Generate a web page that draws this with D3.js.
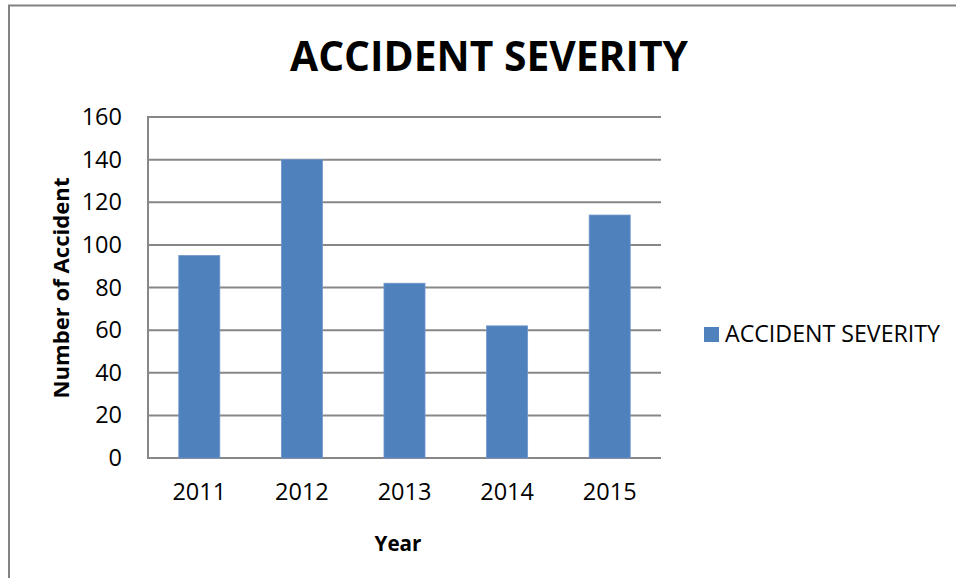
<!DOCTYPE html>
<html>
<head>
<meta charset="utf-8">
<script src="https://cdn.jsdelivr.net/npm/d3@7/dist/d3.min.js"></script>
<style>
  html, body { margin: 0; padding: 0; background: #fff; }
  svg { display: block; }
  text { font-family: "Open Sans", "Noto Sans", sans-serif; fill: #000; }
</style>
</head>
<body>
<svg id="chart" width="956" height="578"></svg>
<script>
// Accident counts per year
const years = ["2011", "2012", "2013", "2014", "2015"];
const accidents = [95, 140, 82, 62, 114];
const yTicks = [0, 20, 40, 60, 80, 100, 120, 140, 160];
const seriesName = "ACCIDENT SEVERITY";

const W = 956, H = 578;
const plot = { left: 148, right: 661, top: 117, bottom: 458 };

const svg = d3.select("#chart");

// outer frame (top and left edges)
svg.append("path")
  .attr("d", `M9,${H} L9,5.5 L${W},5.5`)
  .attr("fill", "none")
  .attr("stroke", "#828282")
  .attr("stroke-width", 2);

const x = d3.scaleBand()
  .domain(years)
  .range([plot.left, plot.right])
  .paddingInner(0.6)
  .paddingOuter(0.3);

const y = d3.scaleLinear()
  .domain([0, 160])
  .range([plot.bottom, plot.top]);

// horizontal gridlines
svg.append("g")
  .selectAll("line")
  .data(yTicks)
  .join("line")
  .attr("x1", plot.left)
  .attr("x2", plot.right)
  .attr("y1", d => y(d))
  .attr("y2", d => y(d))
  .attr("stroke", "#878787")
  .attr("stroke-width", 2);

// value axis line
svg.append("line")
  .attr("x1", plot.left).attr("x2", plot.left)
  .attr("y1", plot.top - 1).attr("y2", plot.bottom + 1)
  .attr("stroke", "#878787")
  .attr("stroke-width", 2);

// bars
svg.append("g")
  .selectAll("rect")
  .data(accidents)
  .join("rect")
  .attr("x", (d, i) => x(years[i]))
  .attr("width", x.bandwidth())
  .attr("y", d => y(d))
  .attr("height", d => y(0) - y(d))
  .attr("fill", "#4F81BD")
  .attr("stroke", "#7197CC")
  .attr("stroke-width", 0.8);

// y tick labels
const yAxis = d3.axisLeft(y).tickValues(yTicks).tickSize(0).tickPadding(26);
const gy = svg.append("g").attr("transform", `translate(${plot.left},0)`).call(yAxis);
gy.select(".domain").remove();
gy.selectAll("text")
  .attr("font-size", 23.5)
  .attr("font-family", "Open Sans")
  .attr("fill", "#000");

// x tick labels
const xAxis = d3.axisBottom(x).tickSize(0).tickPadding(0);
const gx = svg.append("g").attr("transform", `translate(0,${plot.bottom})`).call(xAxis);
gx.select(".domain").remove();
gx.selectAll("text")
  .attr("font-size", 23.5)
  .attr("font-family", "Open Sans")
  .attr("fill", "#000")
  .attr("dy", null)
  .attr("y", 42);

// title
svg.append("text")
  .attr("x", 489)
  .attr("y", 71)
  .attr("text-anchor", "middle")
  .attr("font-size", 42)
  .attr("font-weight", "bold")
  .attr("textLength", 398)
  .attr("lengthAdjust", "spacingAndGlyphs")
  .text(seriesName);

// axis titles
svg.append("text")
  .attr("x", 398)
  .attr("y", 551)
  .attr("text-anchor", "middle")
  .attr("font-size", 21)
  .attr("font-weight", "bold")
  .attr("textLength", 47)
  .attr("lengthAdjust", "spacingAndGlyphs")
  .text("Year");

svg.append("text")
  .attr("transform", "translate(69,288) rotate(-90)")
  .attr("text-anchor", "middle")
  .attr("font-size", 21)
  .attr("font-weight", "bold")
  .attr("textLength", 221)
  .attr("lengthAdjust", "spacingAndGlyphs")
  .text("Number of Accident");

// legend
const legend = svg.append("g").attr("transform", "translate(704,327)");
legend.append("rect")
  .attr("width", 15).attr("height", 15)
  .attr("fill", "#4F81BD");
legend.append("text")
  .attr("x", 21)
  .attr("y", 15)
  .attr("font-size", 23)
  .attr("textLength", 215)
  .attr("lengthAdjust", "spacingAndGlyphs")
  .text(seriesName);
</script>
</body>
</html>
